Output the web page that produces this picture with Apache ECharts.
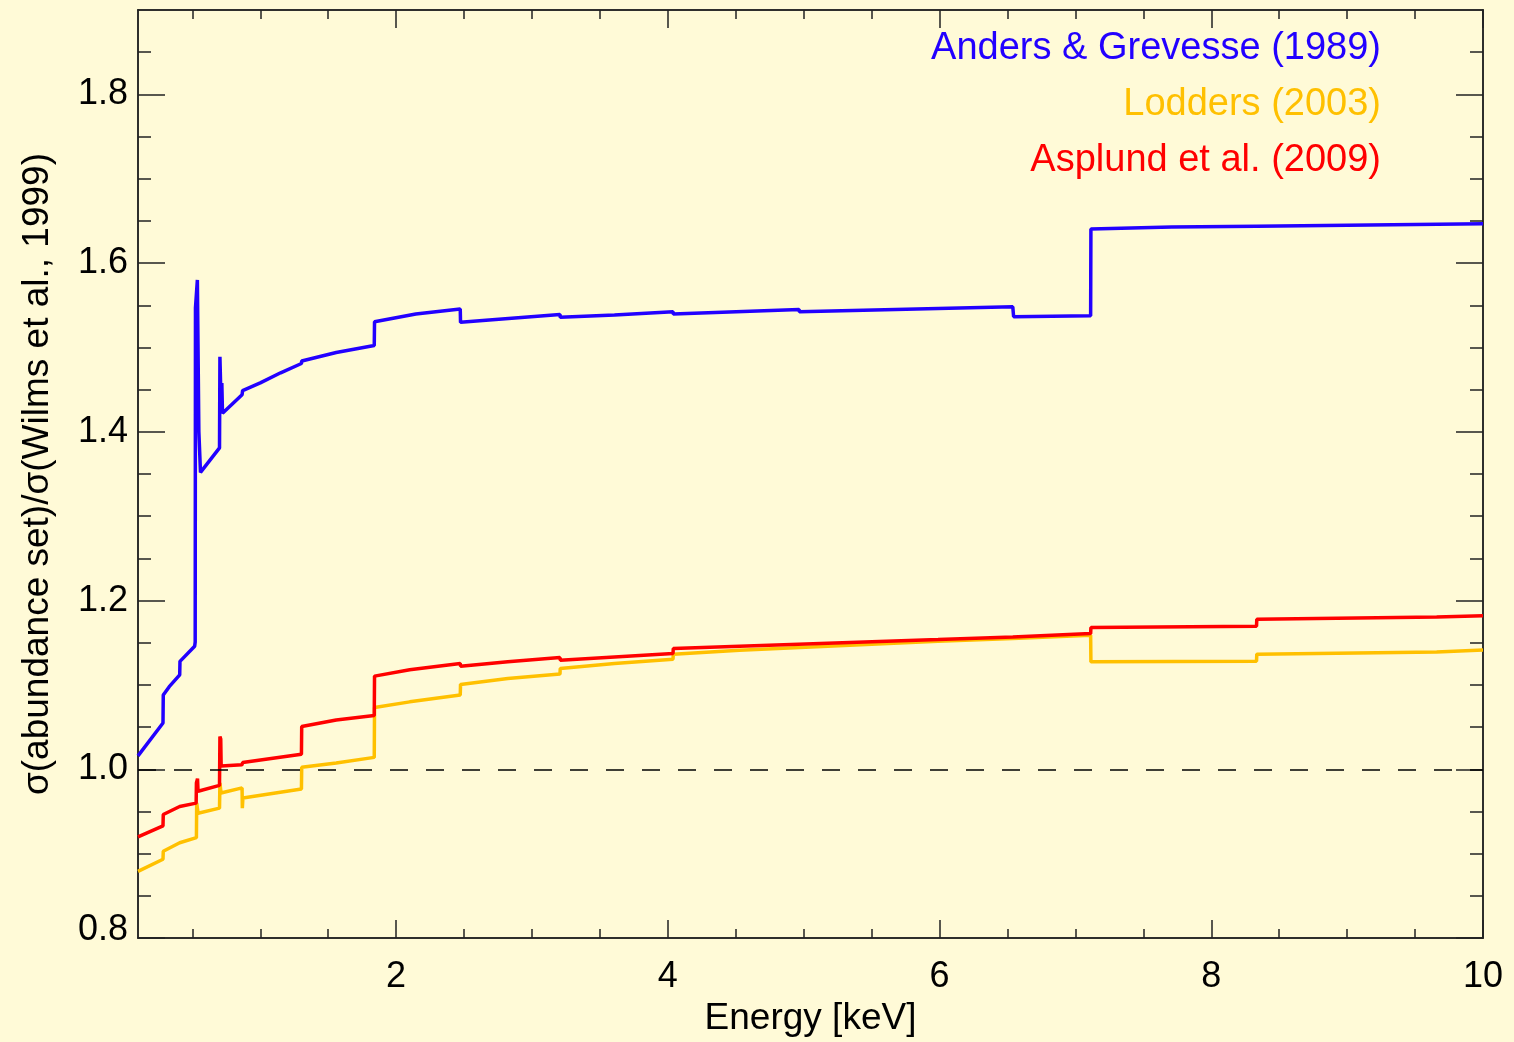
<!DOCTYPE html>
<html>
<head>
<meta charset="utf-8">
<title>Cross-section ratio vs. abundance set</title>
<script src="https://cdn.jsdelivr.net/npm/echarts@6/dist/echarts.min.js"></script>
<style>
  html, body { margin: 0; padding: 0; background: #fffad7; }
  #main { width: 1514px; height: 1042px; }
</style>
</head>
<body>
<div id="main"></div>
<script>
// [energy keV, sigma(set)/sigma(Wilms)], edges as near-vertical steps
var andersGrevesse = [
  [0.1, 1.016], [0.284, 1.055], [0.286, 1.088], [0.33, 1.098], [0.407, 1.112], [0.409, 1.128],
  [0.517, 1.146], [0.521, 1.151], [0.523, 1.547], [0.535, 1.547], [0.537, 1.580], [0.543, 1.578],
  [0.548, 1.400], [0.56, 1.352], [0.700, 1.381], [0.703, 1.489], [0.710, 1.489], [0.712, 1.430],
  [0.717, 1.458], [0.722, 1.422], [0.866, 1.444], [0.870, 1.449], [1.0, 1.458], [1.15, 1.470],
  [1.303, 1.481], [1.305, 1.484], [1.559, 1.494], [1.561, 1.496], [1.839, 1.5023], [1.841, 1.5306],
  [2.145, 1.5396], [2.147, 1.5377], [2.472, 1.5455], [2.474, 1.5298], [2.685, 1.5325],
  [3.206, 1.5392], [3.208, 1.5357], [3.607, 1.5385], [4.038, 1.5424], [4.040, 1.5396],
  [4.966, 1.5451], [4.968, 1.5424], [5.989, 1.5463], [6.539, 1.5482], [6.545, 1.5365],
  [7.112, 1.5375], [7.114, 1.6404], [7.709, 1.6427], [7.711, 1.6407], [8.333, 1.6437],
  [8.335, 1.6419], [10, 1.6466]
];
var lodders = [
  [0.1, 0.879], [0.284, 0.8934], [0.286, 0.903], [0.407, 0.913], [0.409, 0.9145], [0.530, 0.919],
  [0.532, 0.960], [0.538, 0.958], [0.542, 0.948], [0.700, 0.954], [0.703, 0.984], [0.708, 0.982],
  [0.711, 0.972], [0.866, 0.978], [0.868, 0.954], [0.872, 0.966], [1.303, 0.9768], [1.305, 1.0024],
  [1.559, 1.0075], [1.561, 1.0094], [1.839, 1.0142], [1.841, 1.0732], [2.1, 1.080], [2.472, 1.0881],
  [2.474, 1.1007], [2.822, 1.1077], [2.824, 1.108], [3.206, 1.1129], [3.208, 1.1195], [3.607, 1.1254],
  [3.609, 1.126], [4.038, 1.1306], [4.040, 1.1365], [4.527, 1.1412], [5.989, 1.1518], [5.991, 1.152],
  [6.539, 1.155], [7.112, 1.159], [7.114, 1.1274], [8.333, 1.1282], [8.335, 1.1365], [9.659, 1.1392],
  [9.661, 1.1412], [10, 1.1415]
];
var asplund = [
  [0.1, 0.920], [0.284, 0.933], [0.286, 0.9465], [0.407, 0.956], [0.409, 0.957], [0.528, 0.960],
  [0.530, 0.984], [0.538, 0.989], [0.542, 0.974], [0.700, 0.981], [0.703, 1.039], [0.709, 1.036],
  [0.712, 1.004], [0.722, 1.002], [0.866, 1.0055], [0.870, 1.008], [1.303, 1.018], [1.305, 1.0507],
  [1.559, 1.0586], [1.561, 1.0605], [1.839, 1.0637], [1.841, 1.1105], [2.1, 1.118], [2.472, 1.1254],
  [2.474, 1.1223], [2.822, 1.1274], [2.824, 1.129], [3.206, 1.1325], [3.208, 1.1294], [3.607, 1.1333],
  [3.609, 1.1345], [4.038, 1.1373], [4.040, 1.1431], [4.527, 1.146], [5.989, 1.1538], [5.991, 1.155],
  [6.539, 1.157], [6.541, 1.158], [7.112, 1.1609], [7.114, 1.168], [8.333, 1.1696], [8.335, 1.1778],
  [9.659, 1.1805], [9.661, 1.1817], [10, 1.1822]
];
var seriesNames = ['Anders & Grevesse (1989)', 'Lodders (2003)', 'Asplund et al. (2009)'];
var refLevel = 1.0;

var xMajorTicks = [2, 4, 6, 8, 10];
var xMinorTicks = [0.5, 1, 1.5, 2.5, 3, 3.5, 4.5, 5, 5.5, 6.5, 7, 7.5, 8.5, 9, 9.5];
var yMajorTicks = [0.8, 1.0, 1.2, 1.4, 1.6, 1.8];
var yMinorTicks = [0.85, 0.9, 0.95, 1.05, 1.1, 1.15, 1.25, 1.3, 1.35, 1.45, 1.5, 1.55, 1.65, 1.7, 1.75, 1.85];

var font = 'Liberation Sans, Arial, Helvetica, sans-serif';
var ink = '#222';
var colors = ['#2200ff', '#ffc000', '#ff0000'];

var chart = echarts.init(document.getElementById('main'));

// one axis per side and tick kind, so IDL style box ticks can be drawn
function frameAxis(position, min, max, ticks, len, extra) {
  var ax = {
    type: 'value',
    position: position,
    min: min,
    max: max,
    axisLine: { show: true, onZero: false, lineStyle: { color: ink, width: 1.5 } },
    axisTick: { show: true, inside: true, length: len, customValues: ticks, lineStyle: { color: ink, width: 1.5 } },
    axisLabel: { show: false },
    splitLine: { show: false }
  };
  return Object.assign(ax, extra || {});
}

var option = {
  backgroundColor: '#fffad7',
  animation: false,
  grid: { left: 138, right: 31, top: 10, bottom: 100 },
  xAxis: [
    frameAxis('bottom', 0.1, 10, xMajorTicks, 18, {
      name: 'Energy [keV]',
      nameLocation: 'middle',
      nameGap: 59,
      nameTextStyle: { fontFamily: font, fontSize: 37, color: '#000' },
      axisLabel: { show: true, customValues: xMajorTicks, margin: 21, fontFamily: font, fontSize: 36, color: '#000' }
    }),
    frameAxis('bottom', 0.1, 10, xMinorTicks, 9),
    frameAxis('top', 0.1, 10, xMajorTicks, 18),
    frameAxis('top', 0.1, 10, xMinorTicks, 9)
  ],
  yAxis: [
    frameAxis('left', 0.8, 1.9, yMajorTicks, 27, {
      name: 'σ(abundance set)/σ(Wilms et al., 1999)',
      nameLocation: 'middle',
      nameGap: 82,
      nameTextStyle: { fontFamily: font, fontSize: 37, color: '#000' },
      axisLabel: {
        show: true, customValues: yMajorTicks, margin: 10, fontFamily: font, fontSize: 36, color: '#000',
        formatter: function (v) {
          var s = v.toFixed(1);
          return v === yMajorTicks[0] ? '{low|' + s + '}' : s;
        },
        rich: { low: { fontFamily: font, fontSize: 36, color: '#000', padding: [0, 0, 16, 0] } }
      }
    }),
    frameAxis('left', 0.8, 1.9, yMinorTicks, 13),
    frameAxis('right', 0.8, 1.9, yMajorTicks, 27),
    frameAxis('right', 0.8, 1.9, yMinorTicks, 13)
  ],
  graphic: seriesNames.map(function (n, i) {
    return {
      type: 'text', x: 1381, y: 49 + i * 56, silent: true,
      style: { text: n, fill: colors[i], font: '38px ' + font, align: 'right', verticalAlign: 'middle' }
    };
  }),
  series: [
    {
      name: seriesNames[0], type: 'line', data: andersGrevesse, showSymbol: false,
      lineStyle: { color: colors[0], width: 3.5 }, itemStyle: { color: colors[0] },
      markLine: {
        silent: true, symbol: ['none', 'none'], label: { show: false },
        lineStyle: { color: '#000', type: [18, 18], width: 1.5 },
        data: [{ yAxis: refLevel }]
      }
    },
    {
      name: seriesNames[1], type: 'line', data: lodders, showSymbol: false,
      lineStyle: { color: colors[1], width: 3.5 }, itemStyle: { color: colors[1] }
    },
    {
      name: seriesNames[2], type: 'line', data: asplund, showSymbol: false,
      lineStyle: { color: colors[2], width: 3.5 }, itemStyle: { color: colors[2] }
    }
  ]
};

chart.setOption(option);
</script>
</body>
</html>
